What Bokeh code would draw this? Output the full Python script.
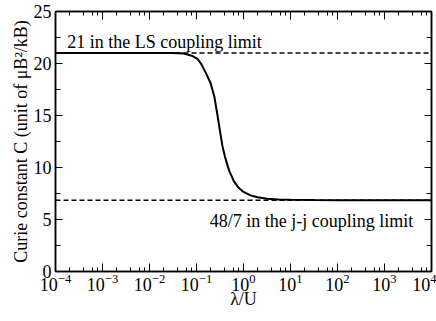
from bokeh.plotting import figure
from bokeh.models import (LogAxis, LinearAxis, Label, Span, SingleIntervalTicker,
                          LogTicker, Range1d, CustomJSTickFormatter)
from bokeh.embed import file_html
from bokeh.resources import INLINE

# ---- data ----
lam_over_U = [1e-4, 1e-3, 1e-2, 0.0316, 0.054, 0.079, 0.105, 0.126, 0.158, 0.2,
              0.24, 0.28, 0.316, 0.355, 0.4, 0.45, 0.5, 0.63, 0.79, 1.0, 1.41,
              2.0, 3.16, 5.6, 10.0, 31.6, 100.0, 1e3, 1e4]
curie_C = [21.0, 21.0, 21.0, 21.0, 20.95, 20.75, 20.45, 19.95, 19.1, 18.1,
           16.8, 15.0, 13.5, 12.1, 11.1, 10.3, 9.65, 8.65, 8.05, 7.65, 7.32,
           7.14, 7.0, 6.92, 6.89, 6.865, 6.86, 6.857, 6.857]
ls_limit = 21.0
jj_limit = 48.0 / 7.0
ls_text = "21 in the LS coupling limit"
jj_text = "48/7 in the j-j coupling limit"
x_label = "λ/U"
y_label = "Curie constant C (unit of μB²/kB)"

FONT = "Liberation Serif"
FS = "18px"

p = figure(x_axis_type="log", x_range=Range1d(1e-4, 1e4), y_range=Range1d(0, 25),
           frame_width=376, frame_height=260, output_backend="svg",
           toolbar_location=None, min_border_left=55, min_border_right=5,
           min_border_top=11, min_border_bottom=50, x_axis_label=x_label,
           y_axis_label=y_label)
p.background_fill_color = "white"
p.border_fill_color = "white"
p.outline_line_color = "black"
p.outline_line_width = 1.5
p.xgrid.visible = False
p.ygrid.visible = False

xt = LogTicker(desired_num_ticks=10)
yt = SingleIntervalTicker(interval=5, num_minor_ticks=2)
p.xaxis.ticker = xt
p.yaxis.ticker = yt


def style(ax, minor_len=4, major_len=8):
    ax.axis_line_color = "black"
    ax.axis_line_width = 1.5
    ax.major_tick_line_color = "black"
    ax.minor_tick_line_color = "black"
    ax.major_tick_line_width = 1
    ax.minor_tick_line_width = 1
    ax.major_tick_in = major_len
    ax.major_tick_out = 0
    ax.minor_tick_in = minor_len
    ax.minor_tick_out = 0
    ax.major_label_text_font = FONT
    ax.major_label_text_font_size = FS
    ax.major_label_text_color = "black"
    ax.axis_label_text_font = FONT
    ax.axis_label_text_font_size = FS
    ax.axis_label_text_font_style = "normal"
    ax.axis_label_text_color = "black"


for ax in p.xaxis:
    style(ax, 4, 8)
    ax.major_label_standoff = 2
    ax.axis_label_standoff = -5
for ax in p.yaxis:
    style(ax, 5, 7)
    ax.major_label_standoff = 4
    ax.axis_label_standoff = 0

top = LogAxis(ticker=xt, formatter=CustomJSTickFormatter(code="return ''"))
style(top, 4, 8)
top.major_label_standoff = 0
p.add_layout(top, "above")
right = LinearAxis(ticker=yt, formatter=CustomJSTickFormatter(code="return ''"))
style(right, 5, 7)
right.major_label_standoff = 0
p.add_layout(right, "right")

# limit lines
for loc in (ls_limit, jj_limit):
    p.add_layout(Span(location=loc, dimension="width", line_color="black",
                      line_width=1.5, line_dash="5 3"))

p.line(lam_over_U, curie_C, line_color="black", line_width=2)

# annotations
p.add_layout(Label(x=10 ** -3.75, y=22.05, text=ls_text, text_font=FONT,
                   text_font_size=FS, text_baseline="alphabetic", text_align="left",
                   text_color="black"))
p.add_layout(Label(x=10 ** -0.72, y=4.84, text=jj_text, text_font=FONT,
                   text_font_size=FS, text_baseline="alphabetic", text_align="left",
                   text_color="black"))

open("out.html", "w").write(file_html(p, INLINE))
